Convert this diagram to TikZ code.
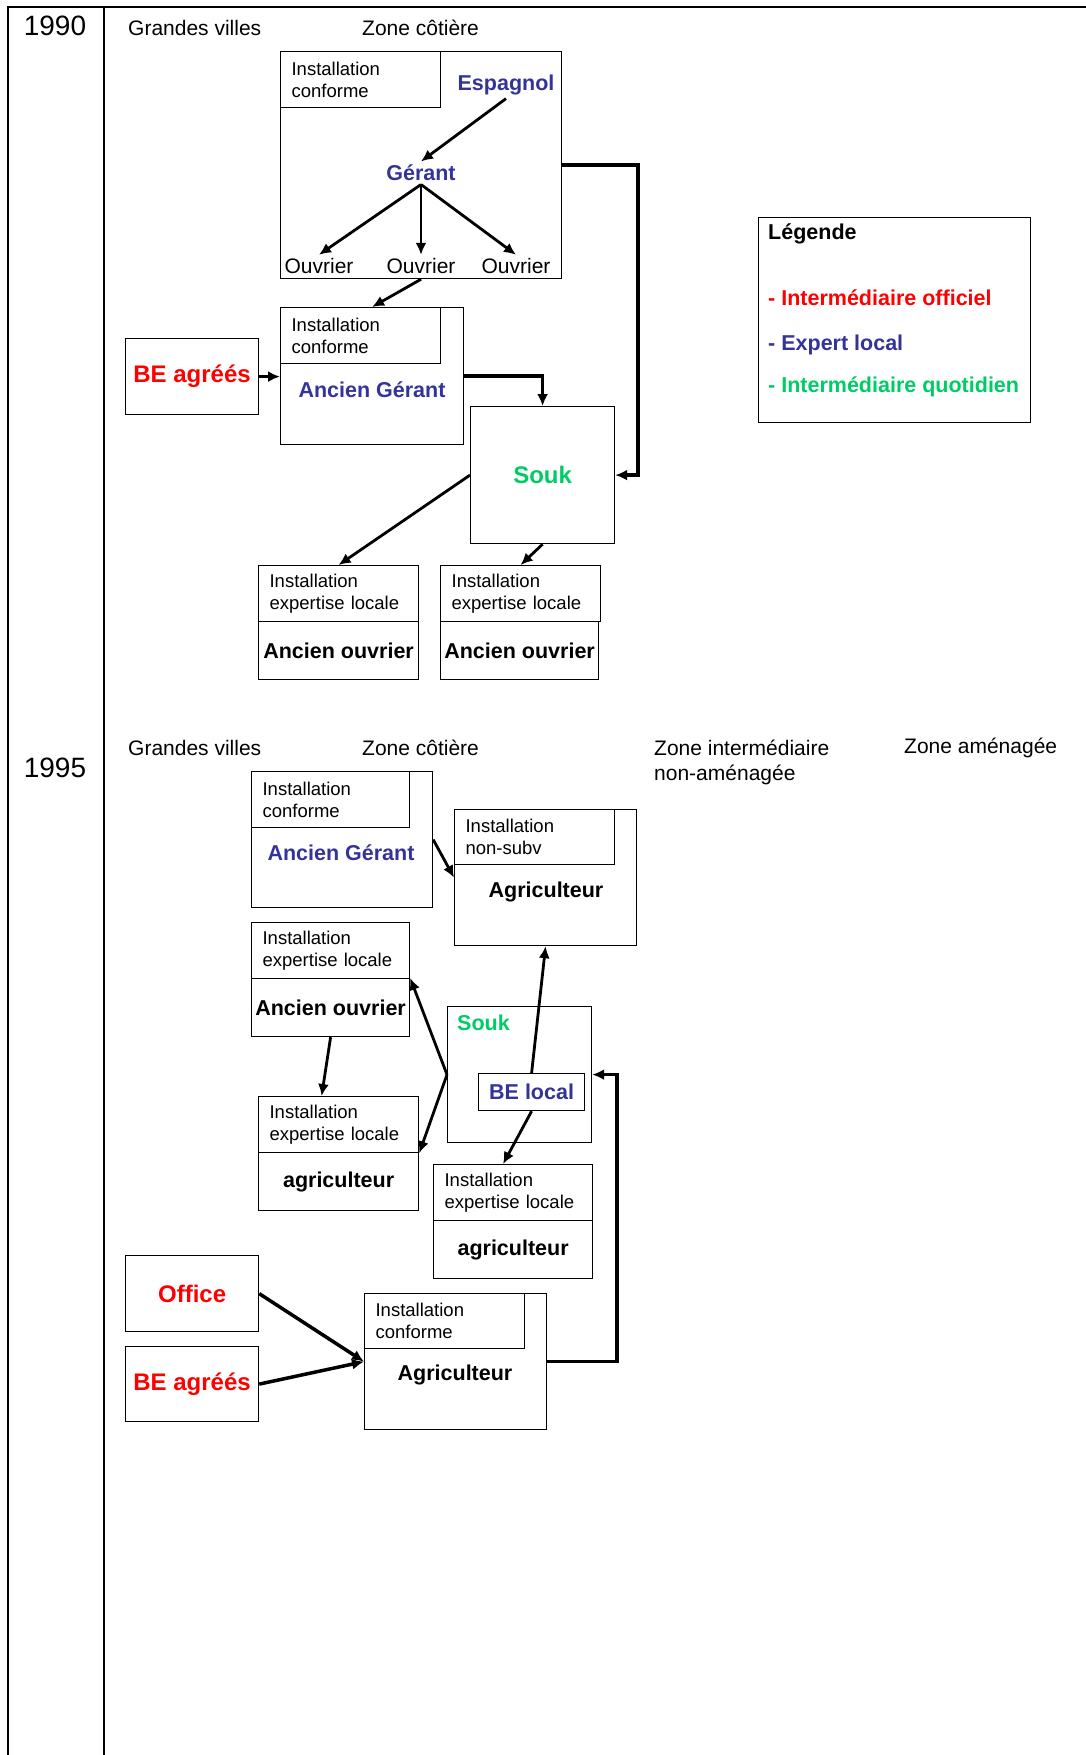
\documentclass[tikz,border=0pt]{standalone}
\usepackage{fontspec}
\setmainfont{Liberation Sans}
\usetikzlibrary{arrows.meta}
\definecolor{officiel}{RGB}{255,0,0}
\definecolor{expert}{RGB}{51,51,153}
\definecolor{quotidien}{RGB}{0,204,102}
\tikzset{
 box/.style={draw, line width=1.2pt, inner sep=0pt, anchor=north west},
 inst/.style={box, align=left, text width=138pt, inner xsep=11pt, minimum height=56pt, font=\fontsize{18.5}{22}\selectfont},
 txt/.style={font=\fontsize{21}{25}\selectfont},
 bold/.style={font=\fontsize{21.5}{25}\selectfont\bfseries},
 actor/.style={font=\fontsize{24}{28}\selectfont\bfseries},
 year/.style={font=\fontsize{28}{32}\selectfont},
 arr/.style={-{Latex[length=12pt,width=11pt]}, line width=2.8pt},
 thk/.style={-{Latex[length=12pt,width=11pt]}, line width=3.5pt},
}
\begin{document}
\begin{tikzpicture}[x=1pt,y=-1pt]
\useasboundingbox (0,0) rectangle (1086,1755);
\draw[line width=2pt] (1086,7) -- (8,7) -- (8,1755);
\draw[line width=2pt] (104,7) -- (104,1755);

\node[year] (y90) at (55,26) {1990};
\node[txt,anchor=west,inner sep=0pt] (gv90) at (128,28) {Grandes villes};
\node[txt,anchor=west,inner sep=0pt] (zc90) at (362,28) {Zone côtière};

\node[box,minimum width=281pt,minimum height=227pt] (cf90) at (280,51) {};
\node[inst] (cf90i) at (280,51) {Installation\\conforme};
\node[bold,text=expert] (esp) at (506,85) {Espagnol};
\node[bold,text=expert] (ger) at (421,173) {Gérant};
\node[txt] (ouv1) at (319,266) {Ouvrier};
\node[txt] (ouv2) at (421,266) {Ouvrier};
\node[txt] (ouv3) at (516,266) {Ouvrier};

\node[box,minimum width=183pt,minimum height=137pt] (ag90) at (280,307) {};
\node[inst] (ag90i) at (280,307) {Installation\\conforme};
\node[bold,text=expert] (ag90t) at (372,390) {Ancien Gérant};
\node[box,actor,text=officiel,minimum width=133pt,minimum height=76pt] (be90) at (125,338) {BE agréés};
\node[box,actor,text=quotidien,minimum width=144pt,minimum height=137pt] (souk90) at (470,406) {Souk};

\node[inst] (ao1i) at (258,565) {Installation\\expertise locale};
\node[box,bold,minimum width=160pt,minimum height=58pt] (ao1) at (258,621) {Ancien ouvrier};
\node[inst] (ao2i) at (440,565) {Installation\\expertise locale};
\node[box,bold,minimum width=158pt,minimum height=58pt] (ao2) at (440,621) {Ancien ouvrier};

\node[box,minimum width=272pt,minimum height=205pt] (leg) at (758,217) {};
\node[bold,anchor=west,inner sep=0pt] (legt) at (768,234) {Légende};
\node[bold,anchor=west,inner sep=0pt,text=officiel] (leg1) at (768,298) {- Intermédiaire officiel};
\node[bold,anchor=west,inner sep=0pt,text=expert] (leg2) at (768,345) {- Expert local};
\node[bold,anchor=west,inner sep=0pt,text=quotidien] (leg3) at (768,387) {- Intermédiaire quotidien};

\draw[arr] (esp.south) -- (ger.north);
\foreach \o in {ouv1,ouv2,ouv3}
  \draw[arr] (ger.south) -- (\o.north);
\draw[arr] (cf90.south) -- (ag90.north);
\draw[arr] (be90.east) -- (be90.east -| ag90.west);
\draw[thk] (ag90.east) -| (souk90.north);
\draw[thk] (cf90.east) -- ++(76,0) |- (souk90.east);
\draw[arr] (souk90.west) -- (ao1i.north);
\draw[arr] (souk90.south) -- (ao2i.north);

\node[year] (y95) at (55,768) {1995};
\node[txt,anchor=west,inner sep=0pt] (gv95) at (128,748) {Grandes villes};
\node[txt,anchor=west,inner sep=0pt] (zc95) at (362,748) {Zone côtière};
\node[txt,anchor=west,inner sep=0pt] (zi95) at (654,748) {Zone intermédiaire};
\node[txt,anchor=west,inner sep=0pt] (zn95) at (654,775) {non-aménagée};
\node[txt,anchor=west,inner sep=0pt] (za95) at (904,748) {Zone aménagée};

\node[box,minimum width=181pt,minimum height=136pt] (ag95) at (251,771) {};
\node[inst,text width=136pt] (ag95i) at (251,771) {Installation\\conforme};
\node[bold,text=expert] (ag95t) at (341,853) {Ancien Gérant};

\node[box,minimum width=182pt,minimum height=136pt] (agr1) at (454,809) {};
\node[inst,minimum height=55pt] (agr1i) at (454,809) {Installation\\non-subv};
\node[bold] (agr1t) at (546,892) {Agriculteur};

\node[inst,text width=136pt] (ao3i) at (251,922) {Installation\\expertise locale};
\node[box,bold,minimum width=158pt,minimum height=58pt] (ao3) at (251,978) {Ancien ouvrier};

\node[inst] (ag1i) at (258,1096) {Installation\\expertise locale};
\node[box,bold,minimum width=160pt,minimum height=58pt] (ag1) at (258,1152) {agriculteur};

\node[box,minimum width=144pt,minimum height=136pt] (souk95) at (447,1006) {};
\node[bold,text=quotidien,anchor=west,inner sep=0pt] (souk95t) at (457,1023) {Souk};
\node[box,bold,text=expert,minimum width=106pt,minimum height=37pt] (bel) at (478,1073) {BE local};

\node[inst,text width=137pt] (ag2i) at (433,1164) {Installation\\expertise locale};
\node[box,bold,minimum width=159pt,minimum height=58pt] (ag2) at (433,1220) {agriculteur};

\node[box,minimum width=182pt,minimum height=136pt] (agr2) at (364,1293) {};
\node[inst,minimum height=55pt] (agr2i) at (364,1293) {Installation\\conforme};
\node[bold] (agr2t) at (455,1375) {Agriculteur};

\node[box,actor,text=officiel,minimum width=133pt,minimum height=76pt] (off) at (125,1255) {Office};
\node[box,actor,text=officiel,minimum width=133pt,minimum height=75pt] (be95) at (125,1346) {BE agréés};

\draw[arr] (ag95.east) -- (agr1.west);
\draw[arr] (ao3.south) -- ([xshift=-17pt]ag1i.north);
\draw[arr] (souk95.west) -- (ao3.north east);
\draw[arr] (souk95.west) -- (ag1i.south east);
\draw[arr] (bel.north) -- (agr1.south);
\draw[arr] (bel.south) -- ([xshift=-10pt]ag2i.north);
\draw[thk] (agr2.east) -- ++(70,0) |- (souk95.east);
\draw[thk] (off.east) -- (agr2.west);
\draw[thk] (be95.east) -- (agr2.west);
\end{tikzpicture}
\end{document}
